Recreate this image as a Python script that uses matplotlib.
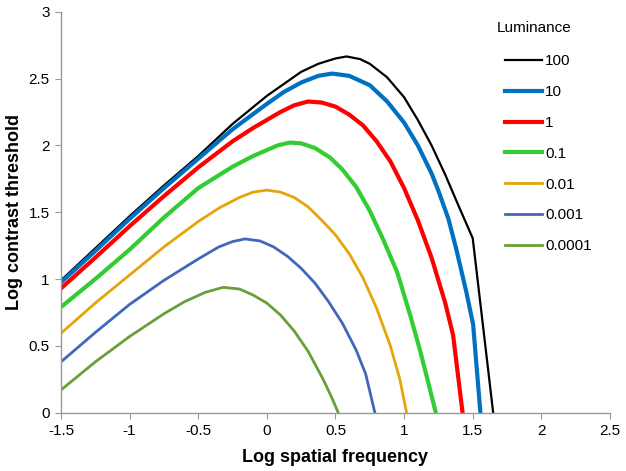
import matplotlib.pyplot as plt
from matplotlib.ticker import FuncFormatter

plt.rcParams['font.family'] = ['Liberation Sans', 'DejaVu Sans']

# values: (log spatial frequency, log contrast threshold)
x_100 = [-1.5, -1.25, -1.0, -0.75, -0.5, -0.25, 0.0, 0.125, 0.25, 0.375, 0.5, 0.581, 0.68, 0.75, 0.875,
         1.0, 1.1, 1.2, 1.3, 1.4, 1.5, 1.649]
y_100 = [0.99, 1.23, 1.47, 1.70, 1.92, 2.16, 2.37, 2.46, 2.55, 2.61, 2.65, 2.665, 2.645, 2.61, 2.51,
         2.36, 2.19, 2.0, 1.78, 1.54, 1.305, 0.0]

x_10 = [-1.5, -1.25, -1.0, -0.75, -0.5, -0.25, 0.0, 0.125, 0.25, 0.375, 0.475, 0.6, 0.75, 0.875,
        1.0, 1.1, 1.2, 1.25, 1.323, 1.381, 1.454, 1.503, 1.556]
y_10 = [0.975, 1.21, 1.45, 1.68, 1.90, 2.12, 2.31, 2.40, 2.47, 2.52, 2.537, 2.52, 2.45, 2.33,
        2.17, 2.0, 1.79, 1.66, 1.45, 1.22, 0.90, 0.66, 0.0]

x_1 = [-1.5, -1.25, -1.0, -0.75, -0.5, -0.25, -0.1, 0.0, 0.1, 0.2, 0.3, 0.4, 0.5, 0.6, 0.7, 0.8, 0.9,
       1.0, 1.1, 1.2, 1.3, 1.357, 1.426]
y_1 = [0.93, 1.16, 1.395, 1.62, 1.835, 2.03, 2.13, 2.19, 2.25, 2.30, 2.328, 2.32, 2.29, 2.23, 2.15, 2.03, 1.88,
       1.68, 1.44, 1.16, 0.82, 0.58, 0.0]

x_01 = [-1.5, -1.25, -1.0, -0.75, -0.5, -0.25, -0.1, 0.0, 0.08, 0.168, 0.25, 0.35, 0.459, 0.55, 0.65,
        0.75, 0.85, 0.95, 1.0, 1.05, 1.115, 1.17, 1.231]
y_01 = [0.79, 1.00, 1.22, 1.46, 1.68, 1.84, 1.92, 1.965, 2.0, 2.021, 2.015, 1.98, 1.91, 1.82, 1.69,
        1.51, 1.29, 1.05, 0.88, 0.71, 0.47, 0.25, 0.0]

x_001 = [-1.5, -1.25, -1.0, -0.75, -0.5, -0.35, -0.2, -0.1, 0.0, 0.1, 0.2, 0.3, 0.4, 0.5, 0.6, 0.7,
         0.8, 0.9, 0.969, 1.018]
y_001 = [0.594, 0.82, 1.03, 1.24, 1.43, 1.53, 1.61, 1.65, 1.665, 1.65, 1.61, 1.54, 1.44, 1.33, 1.19, 1.01,
         0.78, 0.50, 0.25, 0.0]

x_0001 = [-1.5, -1.25, -1.0, -0.75, -0.5, -0.35, -0.25, -0.16, -0.05, 0.05, 0.15, 0.25, 0.35, 0.45,
          0.55, 0.65, 0.72, 0.787]
y_0001 = [0.38, 0.60, 0.81, 0.99, 1.15, 1.24, 1.28, 1.30, 1.285, 1.24, 1.17, 1.08, 0.97, 0.83,
          0.67, 0.47, 0.29, 0.0]

x_00001 = [-1.5, -1.25, -1.0, -0.75, -0.6, -0.45, -0.318, -0.2, -0.1, 0.0, 0.1, 0.2, 0.3, 0.41, 0.47, 0.52]
y_00001 = [0.17, 0.38, 0.57, 0.74, 0.83, 0.90, 0.938, 0.925, 0.88, 0.82, 0.73, 0.61, 0.46, 0.25, 0.12, 0.0]

labels = ['100', '10', '1', '0.1', '0.01', '0.001', '0.0001']
series = [(x_100, y_100), (x_10, y_10), (x_1, y_1), (x_01, y_01),
          (x_001, y_001), (x_0001, y_0001), (x_00001, y_00001)]
colors = ['black', '#0070C0', '#FF0000', '#33CC33', '#E5A50A', '#4168B8', '#6A9E3A']
widths = [1.6, 3.0, 3.0, 3.0, 2.0, 2.0, 2.0]

fig = plt.figure(figsize=(6.26, 4.71), dpi=100)
ax = fig.add_axes([0.0974, 0.1238, 0.877, 0.8514])

for (xs, ys), lab, c, w in zip(series, labels, colors, widths):
    ax.plot(xs, ys, color=c, lw=w, label=lab, solid_joinstyle='round')

ax.set_xlim(-1.5, 2.5)
ax.set_ylim(0, 3)
ax.set_xticks([-1.5, -1, -0.5, 0, 0.5, 1, 1.5, 2, 2.5])
ax.set_yticks([0, 0.5, 1, 1.5, 2, 2.5, 3])
fmt = FuncFormatter(lambda v, p: '%g' % v)
ax.xaxis.set_major_formatter(fmt)
ax.yaxis.set_major_formatter(fmt)
ax.tick_params(direction='out', length=4, color='#999999', labelsize=11, pad=4)

for s in ['top', 'right']:
    ax.spines[s].set_visible(False)
for s in ['left', 'bottom']:
    ax.spines[s].set_color('#999999')
    ax.spines[s].set_linewidth(1)

ax.set_xlabel('Log spatial frequency', fontsize=13, fontweight='bold', labelpad=8)
ax.set_ylabel('Log contrast threshold', fontsize=13, fontweight='bold', labelpad=4)

fig.text(497 / 626, 1 - 28 / 471, 'Luminance', fontsize=11, va='center', ha='left')
ax.legend(loc='upper left', bbox_to_anchor=(0.783, 0.928),
          frameon=False, fontsize=11, handlelength=2.45,
          handletextpad=0.2, labelspacing=1.1)

fig.savefig('out.png', dpi=100)
